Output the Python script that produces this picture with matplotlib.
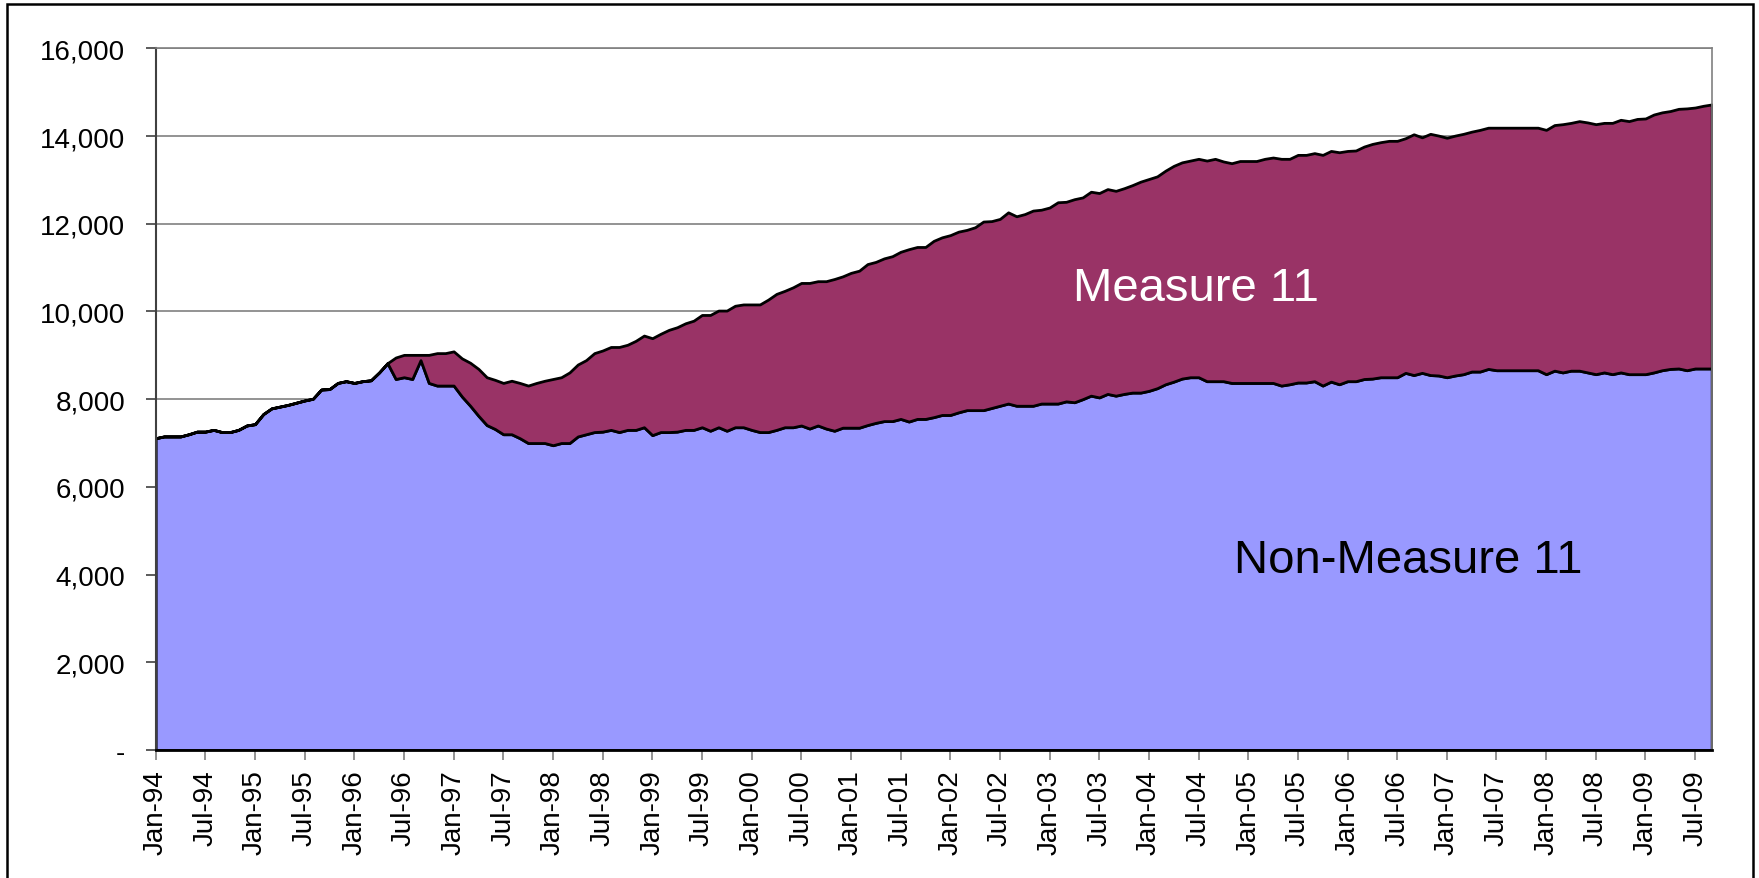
import matplotlib
matplotlib.use("Agg")
import matplotlib.pyplot as plt
from matplotlib.ticker import FuncFormatter
from matplotlib.patches import Rectangle

plt.rcParams['font.family'] = ['Liberation Sans', 'DejaVu Sans']

# monthly values, Jan-94 .. Sep-09 (189 months)
non_measure_11 = [
    7110, 7150, 7150, 7150, 7200, 7260, 7260, 7300, 7250, 7250, 7300, 7400,
    7430, 7660, 7790, 7830, 7870, 7920, 7970, 8010, 8220, 8230, 8370, 8410,
    8370, 8410, 8430, 8610, 8820, 8460, 8500, 8460, 8890, 8370, 8310, 8310,
    8310, 8060, 7850, 7620, 7410, 7320, 7200, 7200, 7110, 7000, 7000, 7000,
    6950, 7000, 7000, 7150, 7200, 7250, 7260, 7300, 7250, 7300, 7300, 7360,
    7180, 7250, 7250, 7260, 7300, 7300, 7360, 7280, 7360, 7280, 7360, 7360,
    7300, 7250, 7250, 7300, 7360, 7360, 7400, 7330, 7400, 7330, 7280, 7350,
    7350, 7350, 7410, 7460, 7500, 7500, 7550, 7490, 7550, 7550, 7590, 7640,
    7640, 7700, 7750, 7750, 7750, 7800, 7850, 7900, 7850, 7850, 7850, 7900,
    7900, 7900, 7950, 7930, 8000, 8080, 8040, 8120, 8080, 8120, 8150, 8150,
    8190, 8250, 8340, 8400, 8470, 8500, 8500, 8410, 8410, 8410, 8370, 8370,
    8370, 8370, 8370, 8370, 8310, 8340, 8380, 8380, 8410, 8310, 8400, 8340,
    8410, 8410, 8460, 8470, 8500, 8500, 8500, 8600, 8550, 8600, 8550, 8540,
    8500, 8540, 8570, 8630, 8630, 8690, 8660, 8660, 8660, 8660, 8660, 8660,
    8570, 8650, 8610, 8650, 8650, 8610, 8570, 8610, 8570, 8610, 8570, 8570,
    8570, 8610, 8660, 8690, 8700, 8660, 8700, 8700, 8700,
]

measure_11 = [
    0, 0, 0, 0, 0, 0, 0, 0, 0, 0, 0, 0,
    0, 0, 0, 0, 0, 0, 0, 0, 0, 0, 0, 0,
    0, 0, 0, 0, 0, 490, 510, 550, 120, 640, 740, 740,
    780, 870, 980, 1070, 1090, 1120, 1170, 1220, 1260, 1310, 1370, 1420,
    1510, 1500, 1610, 1640, 1690, 1800, 1850, 1890, 1940, 1940, 2030, 2090,
    2210, 2240, 2330, 2380, 2430, 2490, 2560, 2640, 2660, 2740, 2770, 2800,
    2860, 2910, 3020, 3100, 3110, 3190, 3250, 3320, 3290, 3360, 3460, 3450,
    3530, 3580, 3670, 3670, 3710, 3760, 3810, 3930, 3920, 3920, 4020, 4050,
    4100, 4120, 4110, 4170, 4300, 4260, 4260, 4360, 4320, 4370, 4450, 4420,
    4470, 4590, 4550, 4630, 4600, 4650, 4660, 4670, 4670, 4690, 4730, 4810,
    4830, 4830, 4870, 4920, 4930, 4940, 4980, 5030, 5070, 5010, 5010, 5060,
    5060, 5060, 5110, 5140, 5170, 5140, 5190, 5190, 5200, 5260, 5260, 5290,
    5250, 5260, 5300, 5350, 5360, 5390, 5390, 5350, 5490, 5370, 5500, 5470,
    5460, 5470, 5480, 5470, 5510, 5500, 5530, 5530, 5530, 5530, 5530, 5530,
    5570, 5600, 5660, 5650, 5690, 5700, 5700, 5690, 5730, 5760, 5770, 5820,
    5830, 5880, 5880, 5880, 5920, 5970, 5950, 5990, 6020,
]

tick_labels = [
    'Jan-94', 'Jul-94', 'Jan-95', 'Jul-95', 'Jan-96', 'Jul-96', 'Jan-97', 'Jul-97',
    'Jan-98', 'Jul-98', 'Jan-99', 'Jul-99', 'Jan-00', 'Jul-00', 'Jan-01', 'Jul-01',
    'Jan-02', 'Jul-02', 'Jan-03', 'Jul-03', 'Jan-04', 'Jul-04', 'Jan-05', 'Jul-05',
    'Jan-06', 'Jul-06', 'Jan-07', 'Jul-07', 'Jan-08', 'Jul-08', 'Jan-09', 'Jul-09',
]

x = list(range(len(non_measure_11)))

fig = plt.figure(figsize=(17.59, 8.79), dpi=100)
ax = fig.add_axes([0.0885, 0.1456, 0.8846, 0.7983])

# stacked areas with black borders
ax.stackplot(x, non_measure_11, measure_11,
             colors=['#9999FF', '#993366'],
             edgecolor='black', linewidth=2.0, zorder=2)

ax.set_xlim(0, len(x) - 1)
ax.set_ylim(0, 16000)

ax.set_yticks(range(0, 16001, 2000))
ax.yaxis.set_major_formatter(FuncFormatter(lambda v, p: '-' if v == 0 else f'{v:,.0f}'))
ax.set_xticks(range(0, 6 * len(tick_labels), 6))
ax.set_xticklabels(tick_labels, rotation=90)

ax.grid(axis='y', color='#808080', linewidth=1.2, zorder=0)
ax.set_axisbelow(True)

ax.tick_params(axis='y', labelsize=20, length=7, width=1.2, color='#404040', pad=15)
ax.tick_params(axis='x', labelsize=20, length=7, width=1.2, color='#808080', pad=7)

for side in ['top', 'right']:
    ax.spines[side].set_color('#808080')
    ax.spines[side].set_linewidth(1.2)
ax.spines['left'].set_color('#404040')
ax.spines['left'].set_linewidth(1.5)
ax.spines['bottom'].set_color('black')
ax.spines['bottom'].set_linewidth(2)

# series labels
ax.text(125.7, 10530, 'Measure 11', color='white', fontsize=34,
        ha='center', va='center', zorder=5)
ax.text(151.3, 4330, 'Non-Measure 11', color='black', fontsize=34,
        ha='center', va='center', zorder=5)

# outer chart border
fig.patches.append(Rectangle((0.0038, -0.01), 0.9928, 1.0043, transform=fig.transFigure,
                             fill=False, edgecolor='black', linewidth=1.8))

fig.savefig('out.png', dpi=100)
